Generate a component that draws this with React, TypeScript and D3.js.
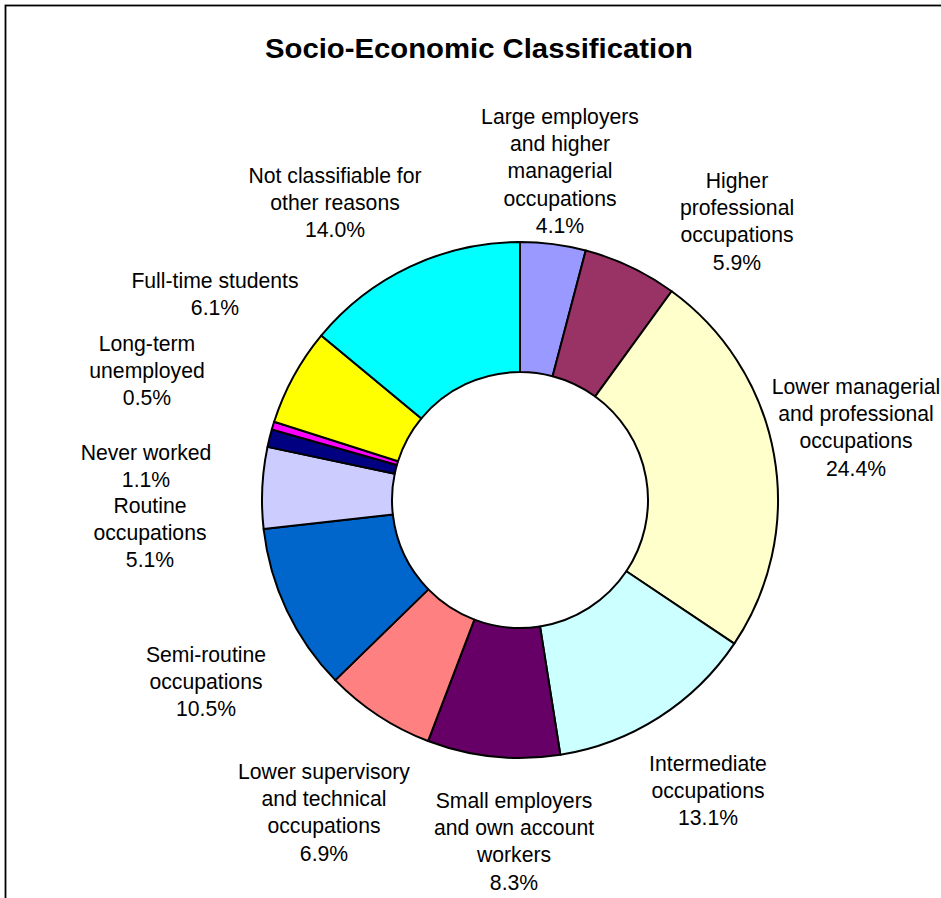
import * as React from 'react';
import * as d3 from 'd3';

// categories, clockwise from 12 o'clock; "|" marks the line breaks used in the labels
const categories = [
  'Large employers|and higher|managerial|occupations',
  'Higher|professional|occupations',
  'Lower managerial|and professional|occupations',
  'Intermediate|occupations',
  'Small employers|and own account|workers',
  'Lower supervisory|and technical|occupations',
  'Semi-routine|occupations',
  'Routine|occupations',
  'Never worked',
  'Long-term|unemployed',
  'Full-time students',
  'Not classifiable for|other reasons',
];
const values = [4.1, 5.9, 24.4, 13.1, 8.3, 6.9, 10.5, 5.1, 1.1, 0.5, 6.1, 14.0];
const colors = [
  '#9999FF', '#993366', '#FFFFCC', '#CCFFFF', '#660066', '#FF8080',
  '#0066CC', '#CCCCFF', '#000080', '#FF00FF', '#FFFF00', '#00FFFF',
];

// label layout: centre x and first baseline, hand-placed like the original
const labelAt: [number, number][] = [
  [560, 124], [737, 188], [856, 394], [708, 771], [514, 808], [324, 779],
  [206, 662], [150, 513], [146, 460], [147, 351], [215, 288], [335, 183],
];

const W = 941;
const H = 898;
const cx = 520;
const cy = 500;
const outerR = 258;
const innerR = 128;
const lineH = 27.2;

type Slice = { name: string; value: number; color: string; i: number };

export default function App() {
  const rows: Slice[] = categories.map((c, i) => ({ name: c, value: values[i], color: colors[i], i }));

  const pie = d3.pie<Slice>().value((d) => d.value).sort(null).startAngle(0).endAngle(2 * Math.PI);
  const arc = d3.arc<d3.PieArcDatum<Slice>>().innerRadius(innerR).outerRadius(outerR);
  const fmt = d3.format('.1f');
  const arcs = pie(rows);

  return (
    <svg width={W} height={H} style={{ position: 'absolute', left: 0, top: 0, background: '#fff' }}
      fontFamily="'Liberation Sans', Arial, sans-serif">
      <rect x={0} y={0} width={W} height={H} fill="#fff" />
      <rect x={5.5} y={5.5} width={W + 20} height={H + 20} fill="none" stroke="#000" strokeWidth={1.8} />
      <text x={479} y={58} textAnchor="middle" fontSize={27} fontWeight="bold" fill="#000"
        textLength={428} lengthAdjust="spacingAndGlyphs">
        Socio-Economic Classification
      </text>
      <g transform={`translate(${cx},${cy})`}>
        {arcs.map((a) => (
          <path key={a.data.i} d={arc(a) as string} fill={a.data.color} stroke="#000" strokeWidth={2} strokeLinejoin="round" />
        ))}
      </g>
      {arcs.map((a) => {
        const lines = [...a.data.name.split('|'), fmt(a.data.value) + '%'];
        const [lx, ly] = labelAt[a.data.i];
        return (
          <text key={'l' + a.data.i} x={lx} y={ly} textAnchor="middle" fontSize={21.2} fill="#000">
            {lines.map((t, k) => (
              <tspan key={k} x={lx} y={ly + k * lineH}>{t}</tspan>
            ))}
          </text>
        );
      })}
    </svg>
  );
}
